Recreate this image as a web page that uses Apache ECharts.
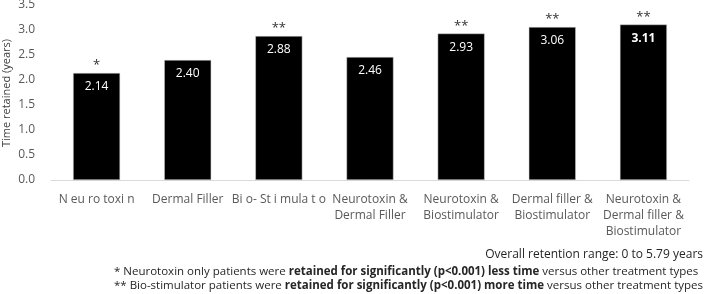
<!DOCTYPE html>
<html><head><meta charset="utf-8">
<script src="https://cdn.jsdelivr.net/npm/echarts@6/dist/echarts.min.js"></script>
<style>html,body{margin:0;padding:0;background:#fff}#c{width:709px;height:294px}</style>
</head><body><div id="c"></div>
<script>
var categories = ['N eu ro toxi n', 'Dermal Filler', 'Bi o- St i mula t o', 'Neurotoxin &\nDermal Filler', 'Neurotoxin &\nBiostimulator', 'Dermal filler &\nBiostimulator', 'Neurotoxin &\nDermal filler &\nBiostimulator'];
var values = [2.14, 2.40, 2.88, 2.46, 2.93, 3.06, 3.11];
var stars = ['*', '', '**', '', '**', '**', '**'];
var yTicks = [0, 0.5, 1, 1.5, 2, 2.5, 3, 3.5];
var yTitle = 'Time retained (years)';

var FONT = 'Open Sans';
var chart = echarts.init(document.getElementById('c'));
chart.setOption({
  animation: false,
  textStyle: {fontFamily: FONT},
  grid: {left: 51, right: 20, top: 5, bottom: 114, containLabel: false, outerBoundsMode: 'none'},
  xAxis: {
    type: 'category', data: categories,
    axisLine: {lineStyle: {color: '#d9d9d9'}},
    axisTick: {show: false},
    axisLabel: {interval: 0, color: '#595959', fontSize: 12, lineHeight: 16, margin: 12, fontFamily: FONT, hideOverlap: false}
  },
  yAxis: {
    type: 'value', min: 0, max: 3.5, interval: 0.5,
    splitLine: {show: false},
    axisLine: {show: false}, axisTick: {show: false},
    axisLabel: {color: '#595959', fontSize: 12, margin: 16, fontFamily: FONT,
      formatter: function (v) { return v.toFixed(1); }}
  },
  series: [{
    type: 'bar', data: values, barWidth: 47,
    itemStyle: {color: '#000000', borderColor: '#d0d0d0', borderWidth: 0.5},
    label: {show: true, position: 'insideTop', distance: 8, color: '#ffffff', fontSize: 12, fontFamily: FONT,
      formatter: function (p) { return p.dataIndex === 6 ? '{b|' + p.value.toFixed(2) + '}' : p.value.toFixed(2); },
      rich: {b: {fontWeight: 'bold', color: '#ffffff', fontSize: 12, fontFamily: FONT}}}
  }, {
    type: 'bar', data: values, barWidth: 47, barGap: '-100%',
    itemStyle: {color: 'rgba(0,0,0,0)'},
    label: {show: true, position: 'top', distance: 1, color: '#333333', fontSize: 13, fontFamily: FONT,
      formatter: function (p) { return stars[p.dataIndex]; }},
    z: 3, silent: true
  }],
  graphic: [{
    type: 'text', x: 7, y: 93, rotation: Math.PI / 2,
    style: {text: yTitle, fill: '#404040', font: '11px "' + FONT + '"', align: 'center', verticalAlign: 'middle'}
  }, {
    type: 'text', right: 6, top: 249,
    style: {text: 'Overall retention range: 0 to 5.79 years', fill: '#262626', font: '12px "' + FONT + '"', align: 'right'}
  }, {
    type: 'text', right: 6, top: 265,
    style: {
      text: '* Neurotoxin only patients were {b|retained for significantly (p<0.001) less time} versus other treatment types\n** Bio-stimulator patients were {b|retained for significantly (p<0.001) more time} versus other treatment types',
      fill: '#262626', font: '11.5px "' + FONT + '"', lineHeight: 14, align: 'right',
      rich: {b: {fontWeight: 'bold', fill: '#262626', fontSize: 11.5, fontFamily: FONT, lineHeight: 14}}
    }
  }]
});
</script></body></html>
